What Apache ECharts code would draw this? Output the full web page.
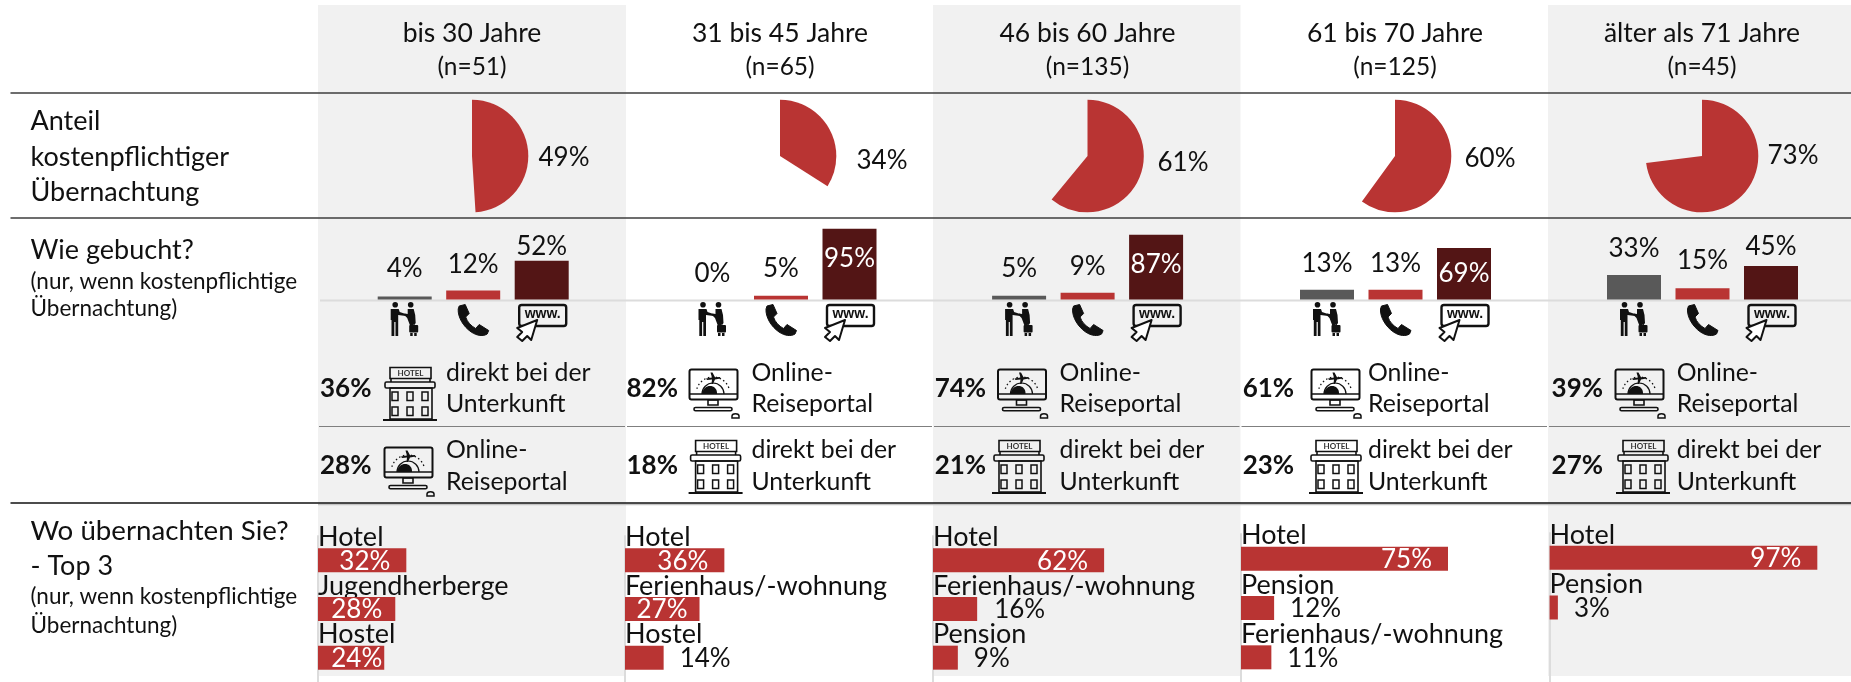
<!DOCTYPE html>
<html>
<head>
<meta charset="utf-8">
<style>html,body{margin:0;padding:0;background:#fff}#c{width:1851px;height:682px}</style>
<script src="https://cdn.jsdelivr.net/npm/echarts@6/dist/echarts.min.js"></script>
</head>
<body>
<div id="c"></div>
<script>
// ---------- data ----------
const ageGroups = ['bis 30 Jahre', '31 bis 45 Jahre', '46 bis 60 Jahre', '61 bis 70 Jahre', 'älter als 71 Jahre'];
const sampleSizes = ['(n=51)', '(n=65)', '(n=135)', '(n=125)', '(n=45)'];
const paidShare = [49, 34, 61, 60, 73];
const unpaidShare = [51, 66, 39, 40, 27];
const channels = ['persönlich', 'telefonisch', 'online'];
const bookedPersonal = [4, 0, 5, 13, 33];
const bookedPhone = [12, 5, 9, 13, 15];
const bookedOnline = [52, 95, 87, 69, 45];
const firstChannelShare = [36, 82, 74, 61, 39];
const firstChannelKind = ['hotel', 'online', 'online', 'online', 'online'];
const secondChannelShare = [28, 18, 21, 23, 27];
const secondChannelKind = ['online', 'hotel', 'hotel', 'hotel', 'hotel'];
const channelText = { hotel: ['direkt bei der', 'Unterkunft'], online: ['Online-', 'Reiseportal'] };
const stayNames = [
  ['Hotel', 'Jugendherberge', 'Hostel'],
  ['Hotel', 'Ferienhaus/-wohnung', 'Hostel'],
  ['Hotel', 'Ferienhaus/-wohnung', 'Pension'],
  ['Hotel', 'Pension', 'Ferienhaus/-wohnung'],
  ['Hotel', 'Pension', '']
];
const stayValues = [
  [32, 28, 24],
  [36, 27, 14],
  [62, 16, 9],
  [75, 12, 11],
  [97, 3, null]
];

// ---------- layout ----------
const FONT = 'Lato';
const INK = '#111111';
const RED = '#b93433';
const DARK = '#531515';
const GREY = '#595959';
const colLeft = [318, 626, 933, 1240.5, 1548];
const colRight = [626, 933, 1240.5, 1548, 1851];
const colMid = [472, 780, 1087.5, 1395, 1702];
const barMid = [473.2, 781, 1087.6, 1395.5, 1702.5];
const pieLabelX = [564, 882, 1183, 1490, 1793];
const pieLabelY = [158, 161, 163, 159, 156];
const bookedLabelY = [
  [269, 265, 247], [274, 269, 259], [269, 267, 265], [264, 264, 274], [249, 261, 247]
];
const channelPctX = [320, 626.5, 934.7, 1242.7, 1551.6];
const channelTextX = [446, 751.5, 1059.6, 1368, 1676.7];
const hotelIconX = [383, 688.6, 992, 1309, 1616];
const onlineIconX = [384, 689, 997.5, 1311, 1615];
const stayGridLeft = [318, 625, 933, 1241, 1549.6];
const stayGridShift = [0, 0, 0, -2, -3];
const stayLabelGap = [[16, 13, 2], [16, 12, 16], [16, 17, 16], [16, 16, 16], [16, 16, 16]];

let pathCount = 0;
function pathEl(d, style) {
  const name = 'iconPath' + (pathCount++);
  echarts.graphic.registerShape(name, echarts.graphic.extendPath(d, {}));
  return { type: name, style };
}
function txt(text, x, y, size, opt) {
  opt = opt || {};
  return {
    type: 'text', z: 5, silent: true,
    style: {
      text, x, y, fill: opt.fill || INK,
      font: (opt.bold ? 'bold ' : '') + size + 'px ' + FONT,
      textAlign: opt.align || 'left', textVerticalAlign: 'middle'
    }
  };
}
function hline(x1, x2, y, color, w) {
  return { type: 'line', z: 1, silent: true, shape: { x1, y1: y, x2, y2: y }, style: { stroke: color, lineWidth: w } };
}
const K = '#111111';
const box = (x, y, width, height, r, lw, fill) => ({
  type: 'rect', shape: { x, y, width, height, r: r || 0 },
  style: { fill: fill || 'none', stroke: K, lineWidth: lw || 1.6 }
});
const seg = (x1, y1, x2, y2, lw) => ({ type: 'line', shape: { x1, y1, x2, y2 }, style: { stroke: K, lineWidth: lw || 1.6 } });

function hotelIcon(x, y) {
  const kids = [
    box(7, 0.5, 41, 11), seg(8, 11, 8, 15), seg(47, 11, 47, 15),
    box(2, 15, 50, 6, 1.5), box(7, 21, 42, 31),
    seg(0, 53, 54, 53, 2),
    { type: 'text', style: { text: 'HOTEL', x: 27.5, y: 6.2, fill: '#333', font: 'bold 8px ' + FONT, textAlign: 'center', textVerticalAlign: 'middle' } }
  ];
  [9, 24, 39].forEach(wx => [25, 40].forEach(wy => kids.push(box(wx, wy, 6, 8.5, 0, 1.5))));
  return { type: 'group', x, y, z: 5, silent: true, children: kids };
}
function onlineIcon(x, y) {
  return {
    type: 'group', x, y, z: 5, silent: true, children: [
      box(0.5, 0.5, 48, 30, 2, 2),
      seg(1, 25, 48, 25, 1.6),
      { type: 'arc', shape: { cx: 24, cy: 25, r: 11, startAngle: Math.PI, endAngle: 2 * Math.PI }, style: { stroke: K, lineWidth: 1.2, fill: 'none' } },
      pathEl('M13 25 C14 17 22 15 26 19 C28 21 28 23 28 25 Z', { fill: K }),
      { type: 'arc', shape: { cx: 24, cy: 25, r: 17, startAngle: Math.PI * 1.1, endAngle: Math.PI * 1.9 }, style: { stroke: K, lineWidth: 1.3, fill: 'none', lineDash: [1.5, 2.5] } },
      pathEl('M17 9.5 L23 8.5 L21.5 3.5 L23.5 3.5 L26 8.2 L31 8 L31.5 9.5 L26 10.5 L24 15 L22.5 15 L23 10.5 L18 11 Z', { fill: K }),
      box(19, 31, 10, 5, 0, 1.6),
      box(5, 38.5, 38, 3.2, 1.5, 1.6),
      pathEl('M43 49 L43 47 C43 44 50 44 50 47 L50 49 Z', { fill: 'none', stroke: K, lineWidth: 1.5 })
    ]
  };
}
function peopleIcon(x, y) {
  return {
    type: 'group', x, y, z: 5, silent: true, children: [
      { type: 'circle', shape: { cx: 5.5, cy: 2.8, r: 2.8 }, style: { fill: K } },
      { type: 'circle', shape: { cx: 21, cy: 2.8, r: 2.8 }, style: { fill: K } },
      pathEl('M1 7 L9 7 L10 10 L16 12 L16 14 L8.5 13 L8.5 34 L5.8 34 L5.8 20 L4.6 20 L4.6 34 L1.8 34 L1.8 18 L1 18 Z', { fill: K }),
      pathEl('M18 7 L24 7 L25.5 13 L26 21 L24 24 L24 22 L22 28 L17.5 16 L14.5 13 L15 11.5 L18 12 Z', { fill: K }),
      { type: 'rect', shape: { x: 19.5, y: 23, width: 9, height: 7.5, r: 1 }, style: { fill: K } },
      { type: 'rect', shape: { x: 20.5, y: 31, width: 2.5, height: 3 }, style: { fill: K } },
      { type: 'rect', shape: { x: 24.5, y: 31, width: 2.5, height: 3 }, style: { fill: K } }
    ]
  };
}
function phoneIcon(x, y) {
  return {
    type: 'group', x, y, z: 5, silent: true, children: [
      pathEl('M2 2 L8 0.5 L12 9.5 L8.5 13 C10 18 14 22 18.5 24.5 L22 20.5 L31.5 26.5 L30 30 C26 32.5 20 32 14 28 C6 22.5 0.5 13 1 5 Z', { fill: K, stroke: K, lineWidth: 1, lineJoin: 'round' })
    ]
  };
}
function wwwIcon(x, y) {
  return {
    type: 'group', x, y, z: 5, silent: true, children: [
      box(3, 1, 47, 21, 2.5, 2.4),
      { type: 'text', style: { text: 'www.', x: 26.5, y: 10.5, fill: K, font: 'bold 14px "Liberation Sans"', textAlign: 'center', textVerticalAlign: 'middle' } },
      pathEl('M21 16 L1 24 L6 28 L1 33 L6 37 L11 32 L15 36 Z', { fill: '#ffffff', stroke: K, lineWidth: 2, lineJoin: 'round' })
    ]
  };
}

// ---------- static page furniture ----------
const graphic = [];
[0, 2, 4].forEach(i => graphic.push({
  type: 'rect', z: 0, silent: true,
  shape: { x: colLeft[i], y: 5, width: colRight[i] - colLeft[i], height: 671 },
  style: { fill: '#f1f1f1' }
}));
graphic.push(hline(10.5, 1851, 93, '#3d3d3d', 1.5));
graphic.push(hline(10.5, 1851, 218, '#3d3d3d', 1.5));
graphic.push(hline(318, 1851, 504.5, '#c4c4c4', 1.5));
graphic.push(hline(10.5, 1851, 503, '#111111', 1.6));
graphic.push(hline(320, 1851, 300.5, '#dcdcdc', 2));

[['Anteil', 121, 27], ['kostenpflichtiger', 157, 27], ['Übernachtung', 192, 27], ['Wie gebucht?', 250, 27], ['Wo übernachten Sie?', 531, 27.7], ['- Top 3', 566, 27]]
  .forEach(r => graphic.push(txt(r[0], 30.5, r[1], r[2])));
[['(nur, wenn kostenpflichtige', 282], ['Übernachtung)', 309], ['(nur, wenn kostenpflichtige', 597], ['Übernachtung)', 626]]
  .forEach(r => graphic.push(txt(r[0], 30.5, r[1], 22.5)));

function channelRow(i, share, kind, pctY, lineYs, iconY) {
  graphic.push(txt(share + '%', channelPctX[i], pctY, 26, { bold: true }));
  graphic.push(txt(channelText[kind][0], channelTextX[i], lineYs[0], 24.8));
  graphic.push(txt(channelText[kind][1], channelTextX[i], lineYs[1], 24.8));
  graphic.push(kind === 'hotel' ? hotelIcon(hotelIconX[i], iconY.hotel) : onlineIcon(onlineIconX[i], iconY.online));
}

// ---------- series ----------
const grids = [], xAxes = [], yAxes = [], series = [];
ageGroups.forEach((name, i) => {
  graphic.push(txt(name, colMid[i], 33, 26.5, { align: 'center' }));
  graphic.push(txt(sampleSizes[i], colMid[i], 67, 24.5, { align: 'center' }));
  graphic.push(peopleIcon(barMid[i] - 83.5, 302));
  graphic.push(phoneIcon(barMid[i] - 16, 304));
  graphic.push(wwwIcon(barMid[i] + 43, 304));
  channelRow(i, firstChannelShare[i], firstChannelKind[i], 389, [373, 404], { hotel: 367, online: 369 });
  channelRow(i, secondChannelShare[i], secondChannelKind[i], 466, [450, 482], { hotel: 440, online: 447 });
  graphic.push(hline(colLeft[i] + 1, colRight[i] - 1, 426.5, '#7f7f7f', 1));

  // paid-share pie
  series.push({
    type: 'pie', center: [colMid[i], 156], radius: 56.3, startAngle: 90, clockwise: true,
    silent: true, animation: false, avoidLabelOverlap: false,
    label: { show: false }, labelLine: { show: false },
    labelLayout: { x: pieLabelX[i], y: pieLabelY[i], align: 'center', verticalAlign: 'middle' },
    data: [
      { value: paidShare[i], name: name, itemStyle: { color: RED },
        label: { show: true, position: 'outside', formatter: '{c}%', fontFamily: FONT, fontSize: 26, color: INK } },
      { value: unpaidShare[i], name: 'rest', itemStyle: { color: 'transparent' } }
    ]
  });

  // booking bars
  const bg = grids.length;
  grids.push({ left: barMid[i] - 102.75, width: 205.5, top: 225, height: 74.5 });
  xAxes.push({ type: 'category', gridIndex: bg, data: channels, show: false });
  yAxes.push({ type: 'value', gridIndex: bg, min: 0, max: 100, show: false });
  const vals = [bookedPersonal[i], bookedPhone[i], bookedOnline[i]];
  const cols = [GREY, RED, DARK];
  const ys = bookedLabelY[i];
  series.push({
    type: 'bar', xAxisIndex: bg, yAxisIndex: bg, barWidth: 54, silent: true, animation: false,
    label: { show: true, position: 'inside', formatter: '{c}%', fontFamily: FONT, fontSize: 26 },
    labelLayout: p => ({
      x: barMid[i] + (p.dataIndex - 1) * 68.5, y: ys[p.dataIndex],
      align: 'center', verticalAlign: 'middle'
    }),
    data: vals.map((v, k) => ({
      value: v, itemStyle: { color: cols[k] },
      label: { color: v > 60 ? '#ffffff' : INK }
    }))
  });

  // top-3 stays
  const sg = grids.length;
  const shift = stayGridShift[i];
  grids.push({ left: stayGridLeft[i], width: 276, top: 536 + shift, height: 151 });
  xAxes.push({ type: 'value', gridIndex: sg, min: 0, max: 100, show: false });
  yAxes.push({
    type: 'category', gridIndex: sg, inverse: true, data: stayNames[i],
    axisTick: { show: false },
    axisLine: { show: true, lineStyle: { color: '#dcdcdc', width: 2 } },
    axisLabel: {
      inside: true, margin: 0, interval: 0, align: 'left', verticalAlign: 'bottom',
      formatter: v => v ? '{n|' + v + '}\n{s|}' : '',
      rich: {
        n: { fontFamily: FONT, fontSize: 27, color: INK, lineHeight: 24 },
        s: { height: 11, lineHeight: 11, fontSize: 2 }
      }
    }
  });
  series.push({
    type: 'bar', xAxisIndex: sg, yAxisIndex: sg, barWidth: 24, silent: true, animation: false,
    itemStyle: { color: RED },
    data: stayValues[i].map((v, k) => {
      const inside = v >= 20;
      return {
        value: v,
        label: {
          show: v != null, formatter: '{c}%', fontFamily: FONT, fontSize: 26,
          position: inside ? 'insideRight' : 'right',
          distance: stayLabelGap[i][k], offset: [0, 1],
          color: inside ? '#ffffff' : INK
        }
      };
    })
  });
});

const chart = echarts.init(document.getElementById('c'), null, { renderer: 'canvas' });
chart.setOption({
  animation: false,
  backgroundColor: '#ffffff',
  textStyle: { fontFamily: FONT },
  graphic: { elements: graphic },
  grid: grids, xAxis: xAxes, yAxis: yAxes, series
});
</script>
</body>
</html>
